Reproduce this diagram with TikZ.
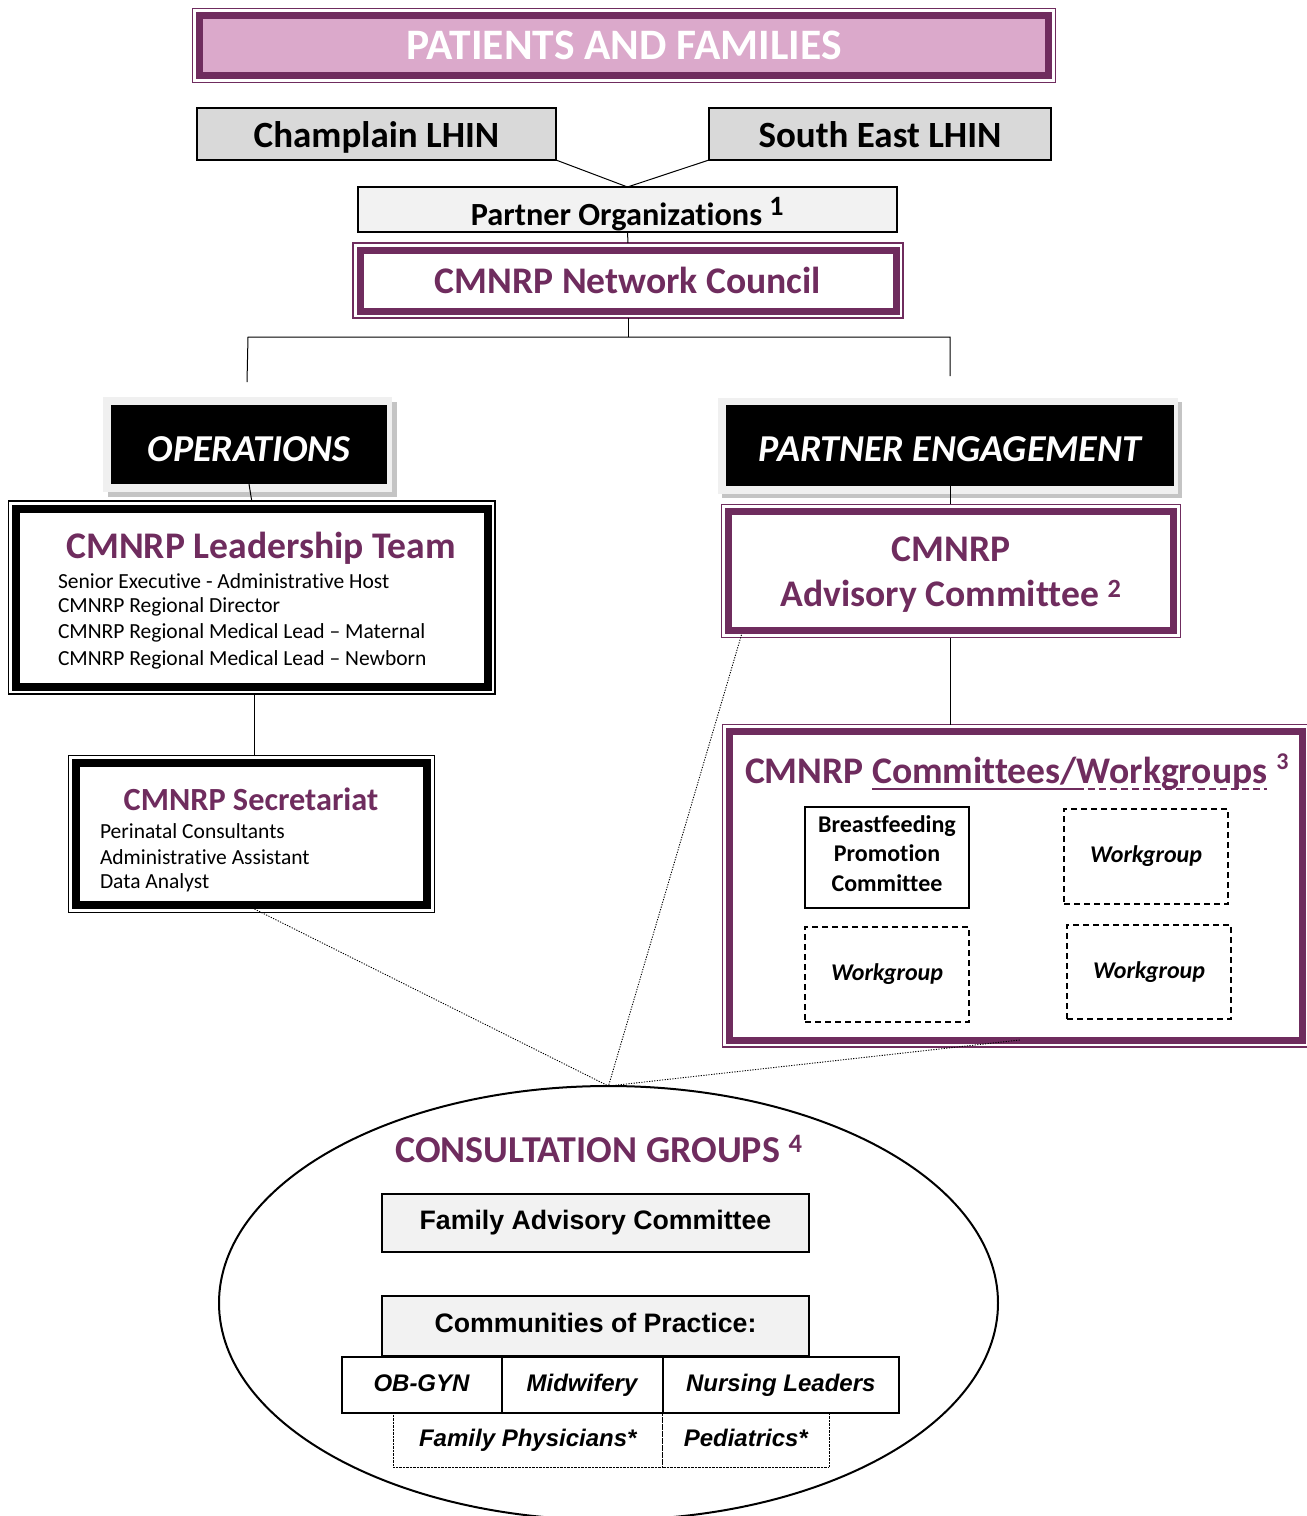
\documentclass[tikz,border=0pt]{standalone}
\usepackage{fontspec}
\setmainfont{Carlito}[Ligatures=NoCommon]
\newfontfamily\arialf{Liberation Sans}
\usetikzlibrary{calc,shapes.geometric}
\definecolor{purp}{HTML}{6F2C5E}
\definecolor{pinkf}{HTML}{DBA9CB}
\definecolor{lhingray}{HTML}{D9D9D9}
\definecolor{lightf}{HTML}{F2F2F2}
\definecolor{framegray}{HTML}{F0F0F0}
\definecolor{shadowgray}{HTML}{C4C4C4}
\begin{document}
\begin{tikzpicture}[x=1pt,y=-1pt,
  every node/.style={inner sep=0pt, outer sep=0pt},
  pband/.style={rectangle, draw=purp, line width=7pt, fill=white},
  kband/.style={rectangle, draw=black, line width=8pt, fill=white},
  thinp/.style={draw=purp, line width=1.3pt},
  thinb/.style={draw=black, line width=1.3pt},
  conn/.style={draw=black, line width=1pt},
  dotc/.style={draw=black, line width=0.9pt, dash pattern=on 1.2pt off 1.4pt},
  ptitle/.style={text=purp, font=\bfseries\fontsize{37.6}{45}\selectfont, align=center},
  bodytxt/.style={anchor=west, font=\fontsize{21.5}{24}\selectfont},
  lhin/.style={rectangle, draw=black, line width=2pt, fill=lhingray, text height=28pt, text depth=2pt, font=\bfseries\fontsize{37}{40}\selectfont},
  blackbox/.style={rectangle, fill=black, text=white, font=\bfseries\itshape\fontsize{38}{40}\selectfont},
  wgbox/.style={rectangle, draw=black, line width=1.8pt, dash pattern=on 6pt off 4pt, text height=17pt, text depth=5pt, font=\bfseries\itshape\fontsize{24}{28}\selectfont},
  cell/.style={rectangle, draw=black, line width=2pt, fill=white, text height=17pt, text depth=5pt, font=\arialf\bfseries\itshape\fontsize{24}{28}\selectfont},
  cellb/.style={rectangle, draw=black, line width=1pt, dash pattern=on 0.8pt off 0.6pt, fill=white, text height=17pt, text depth=5pt, font=\arialf\bfseries\itshape\fontsize{24}{28}\selectfont},
  gbox/.style={rectangle, draw=black, line width=2pt, fill=lightf, text height=19pt, text depth=6pt, font=\arialf\bfseries\fontsize{26.7}{30}\selectfont},
  cwtxt/.style={anchor=base west, text=purp, font=\bfseries\fontsize{37.6}{40}\selectfont}
]
\useasboundingbox (0,0) rectangle (1307,1516);
\clip (0,0) rectangle (1307,1516);

% ellipse of consultation groups
\node[ellipse, draw=black, line width=2pt, minimum width=779pt, minimum height=434pt] (cg) at (608.5,1303) {};

% top: patients and families
\node[rectangle, draw=purp, line width=7pt, fill=pinkf, minimum width=849pt, minimum height=60pt,
      text=white, font=\bfseries\fontsize{43.5}{44}\selectfont] (pf) at (624,45.5) {PATIENTS AND FAMILIES};
\draw[thinp] ($(pf.north west)+(-7,-7)$) rectangle ($(pf.south east)+(7,7)$);

% LHINs
\node[lhin, minimum width=359pt, minimum height=52pt] (ch) at (376.5,134) {Champlain LHIN};
\node[lhin, minimum width=342pt, minimum height=52pt] (se) at (880,134) {South East LHIN};

% partner organizations
\node[rectangle, draw=black, line width=1.8pt, fill=lightf, minimum width=539pt, minimum height=45pt,
      text height=31pt, text depth=0pt,
      font=\bfseries\fontsize{32.3}{34}\selectfont] (po) at (627.5,209.5) {Partner Organizations \textsuperscript{\fontsize{28}{30}\selectfont 1}};
\draw[conn] (ch.south east) -- (po.north);
\draw[conn] (se.south west) -- (po.north);

% network council
\node[pband, minimum width=536pt, minimum height=61pt, ptitle] (nc) at (628,280.5) {CMNRP Network Council};
\draw[thinp] ($(nc.north west)+(-7,-7)$) rectangle ($(nc.south east)+(7,7)$);
\draw[conn] (po.south) -- ($(nc.north)+(0,-7)$);

% branching
\coordinate (hl) at (248,337);
\coordinate (hr) at (950,337);
\coordinate (le) at (247,382);
\coordinate (re) at (950,376);
\draw[conn] ($(nc.south)+(0,7)$) -- (nc.south |- hl);
\draw[conn] (le) -- (hl) -- (hr) -- (re);

% operations
\fill[shadowgray] (108,402) rectangle (397,497);
\fill[framegray] (103,397) rectangle (392,492);
\node[blackbox, minimum width=276pt, minimum height=79pt, text height=34pt, text depth=0.5pt] (ops) at (249,444.5) {OPERATIONS};

% partner engagement
\fill[shadowgray] (722,402) rectangle (1182,498);
\fill[framegray] (718,398) rectangle (1178,494);
\node[blackbox, minimum width=448pt, minimum height=81pt, text height=32.5pt, text depth=1pt] (pe) at (950,445.5) {PARTNER ENGAGEMENT};

% leadership team
\node[kband, minimum width=471.5pt, minimum height=178pt] (lt) at (251.75,597.5) {};
\draw[thinb] ($(lt.north west)+(-7.5,-7.5)$) rectangle ($(lt.south east)+(7.5,7.5)$);
\draw[conn] (ops.south) -- ($(lt.north)+(0,-7.5)$);
\node[ptitle] (ltt) at (261,548) {CMNRP Leadership Team};
\node[bodytxt] (lt1) at (58,581) {Senior Executive - Administrative Host};
\node[bodytxt] (lt2) at (58,607) {CMNRP Regional Director};
\node[bodytxt] (lt3) at (58,633) {CMNRP Regional Medical Lead -- Maternal};
\node[bodytxt] (lt4) at (58,660) {CMNRP Regional Medical Lead -- Newborn};

% secretariat
\node[kband, minimum width=351pt, minimum height=142pt] (sec) at (251.5,834) {};
\draw[thinb] ($(sec.north west)+(-7.5,-7.5)$) rectangle ($(sec.south east)+(7.5,7.5)$);
\draw[conn] ($(lt.south)+(2.25,7.5)$) -- ($(sec.north)+(2.5,-7.5)$);
\node[text=purp, font=\bfseries\fontsize{32.3}{34}\selectfont] (sect) at (251,799) {CMNRP Secretariat};
\node[bodytxt] (sec1) at (100,831) {Perinatal Consultants};
\node[bodytxt] (sec2) at (100,857) {Administrative Assistant};
\node[bodytxt] (sec3) at (100,883) {Data Analyst};

% advisory committee
\node[pband, minimum width=445pt, minimum height=119.5pt] (adv) at (951,571) {};
\draw[thinp] ($(adv.north west)+(-7,-7)$) rectangle ($(adv.south east)+(7,7)$);
\draw[conn] (pe.south) -- ($(adv.north)+(-1,-7)$);
\node[ptitle] (advt) at (951,575) {CMNRP\\Advisory Committee \textsuperscript{2}};

% committees / workgroups
\node[pband, minimum width=572.5pt, minimum height=308.5pt] (cw) at (1015.75,885.75) {};
\draw[thinp] ($(cw.north west)+(-7,-7)$) rectangle ($(cw.south east)+(7,7)$);
\draw[conn] ($(adv.south)+(-1,7)$) -- ($(cw.north)+(-65.75,-7)$);
\node[cwtxt] (cwa) at (745,783) {CMNRP};
\node[cwtxt] (cwb) at ($(cwa.base east)+(8.5,0)$) {Committees/};
\node[cwtxt] (cwc) at (cwb.base east) {Workgroups};
\node[cwtxt, font=\bfseries\fontsize{24}{26}\selectfont] (cwd) at ($(cwc.base east)+(9,-14)$) {3};
\draw[purp, line width=2pt] ($(cwb.base west)+(0,6)$) -- ($(cwb.base east)+(0,6)$);
\draw[purp, line width=2pt, dash pattern=on 7pt off 4pt] ($(cwc.base west)+(0,6)$) -- ($(cwc.base east)+(0,6)$);
\node[rectangle, draw=black, line width=1.8pt, minimum width=164pt, minimum height=101pt] (bpc) at (887,857.5) {};
\node[align=center, font=\bfseries\fontsize{24}{29.5}\selectfont] (bpct) at (887,853.5) {Breastfeeding\\Promotion\\Committee};
\node[wgbox, minimum width=164pt, minimum height=95pt] (wg1) at (1146,856.5) {Workgroup};
\node[wgbox, minimum width=164pt, minimum height=95pt] (wg2) at (887,974.5) {Workgroup};
\node[wgbox, minimum width=164pt, minimum height=94pt] (wg3) at (1149,972) {Workgroup};

% dotted links to consultation groups
\draw[dotc] ($(sec.south)+(3,4)$) -- (cg.north);
\draw[dotc] ($(adv.south west)+(13,4)$) -- (cg.north);
\draw[dotc] ($(cw.south)+(4,0)$) -- (cg.north);

% consultation groups content
\node[text=purp, font=\bfseries\fontsize{38}{40}\selectfont] (cgt) at (599,1149) {CONSULTATION GROUPS \textsuperscript{4}};
\node[gbox, minimum width=427pt, minimum height=58pt] (fac) at (595.5,1222.5) {Family Advisory Committee};
\node[gbox, minimum width=427pt, minimum height=60pt] (cop) at (595.5,1326) {Communities of Practice:};
\node[cellb, minimum width=269.6pt, minimum height=54pt] (fp) at (527.8,1440) {Family Physicians*};
\node[cellb, minimum width=166.4pt, minimum height=54pt] (ped) at (745.8,1440) {Pediatrics*};
\node[cell, minimum width=160pt, minimum height=56pt] (ob) at (421.5,1385) {OB-GYN};
\node[cell, minimum width=161pt, minimum height=56pt] (mid) at (582,1385) {Midwifery};
\node[cell, minimum width=236.4pt, minimum height=56pt] (nl) at (780.8,1385) {Nursing Leaders};
\end{tikzpicture}
\end{document}
